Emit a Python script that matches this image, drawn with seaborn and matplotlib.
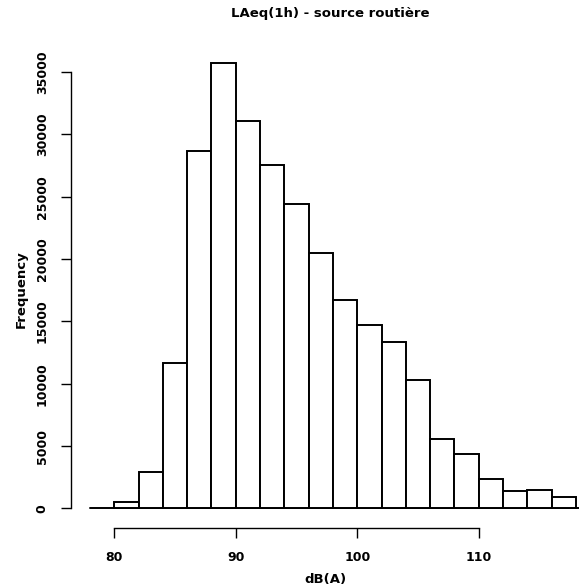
import numpy as np
import pandas as pd
import matplotlib
matplotlib.use("Agg")
import matplotlib.pyplot as plt
import seaborn as sns

# Histogram of hourly road-traffic LAeq levels, 2 dB classes
bin_edges = [80, 82, 84, 86, 88, 90, 92, 94, 96, 98, 100, 102, 104, 106, 108, 110, 112, 114, 116, 118]
counts = [490, 2890, 11640, 28680, 35720, 31090, 27540, 24400, 20500, 16720,
          14690, 13350, 10300, 5600, 4360, 2350, 1390, 1470, 910]
x_ticks = [80, 90, 100, 110]
y_ticks = [0, 5000, 10000, 15000, 20000, 25000, 30000, 35000]

sns.set_theme(style="white")
plt.rcParams["font.family"] = ["DejaVu Sans"]
plt.rcParams["text.color"] = "black"
plt.rcParams["axes.labelcolor"] = "black"

df = pd.DataFrame({"level": bin_edges[:-1], "n": counts})

W, H = 579, 588
fig = plt.figure(figsize=(W / 100, H / 100), dpi=100)
ax = fig.add_axes([71 / W, (H - 527.7) / H, (W - 71) / W, (527.7 - 50) / H])

sns.histplot(data=df, x="level", weights="n", bins=bin_edges, ax=ax,
             stat="count", color="white", edgecolor="black", linewidth=1.4,
             alpha=1.0)

# axis limits so that the R-style detached axes line up
ax.set_xlim(76.44, 118.25)
ax.set_ylim(-1540, 36770)

ax.axhline(0, xmin=(90 - 71) / (W - 71), xmax=1, color="black", lw=1.4, zorder=0)

for side in ["top", "right"]:
    ax.spines[side].set_visible(False)
for side in ["left", "bottom"]:
    ax.spines[side].set_color("black")
    ax.spines[side].set_linewidth(1.0)
ax.spines["left"].set_bounds(y_ticks[0], y_ticks[-1])
ax.spines["bottom"].set_bounds(x_ticks[0], x_ticks[-1])

ax.set_xticks(x_ticks)
ax.set_yticks(y_ticks)
ax.set_yticklabels([str(v) for v in y_ticks], rotation=90, va="center")
ax.tick_params(axis="both", direction="out", length=7, width=1.0, color="black",
               labelsize=9, labelcolor="black", bottom=True, left=True)
ax.tick_params(axis="x", pad=10)
ax.tick_params(axis="y", pad=9)
for lab in ax.get_xticklabels() + ax.get_yticklabels():
    lab.set_fontweight("bold")

ax.set_xlabel("dB(A)", fontsize=9.5, fontweight="bold", labelpad=6, color="black")
ax.set_ylabel("Frequency", fontsize=9.5, fontweight="bold", labelpad=6, color="black")

fig.text(330 / W, 1 - 14 / H, "LAeq(1h) - source routière", ha="center", va="center",
         fontsize=9.5, fontweight="bold", color="black")

fig.savefig("out.png", dpi=100, facecolor="white")
